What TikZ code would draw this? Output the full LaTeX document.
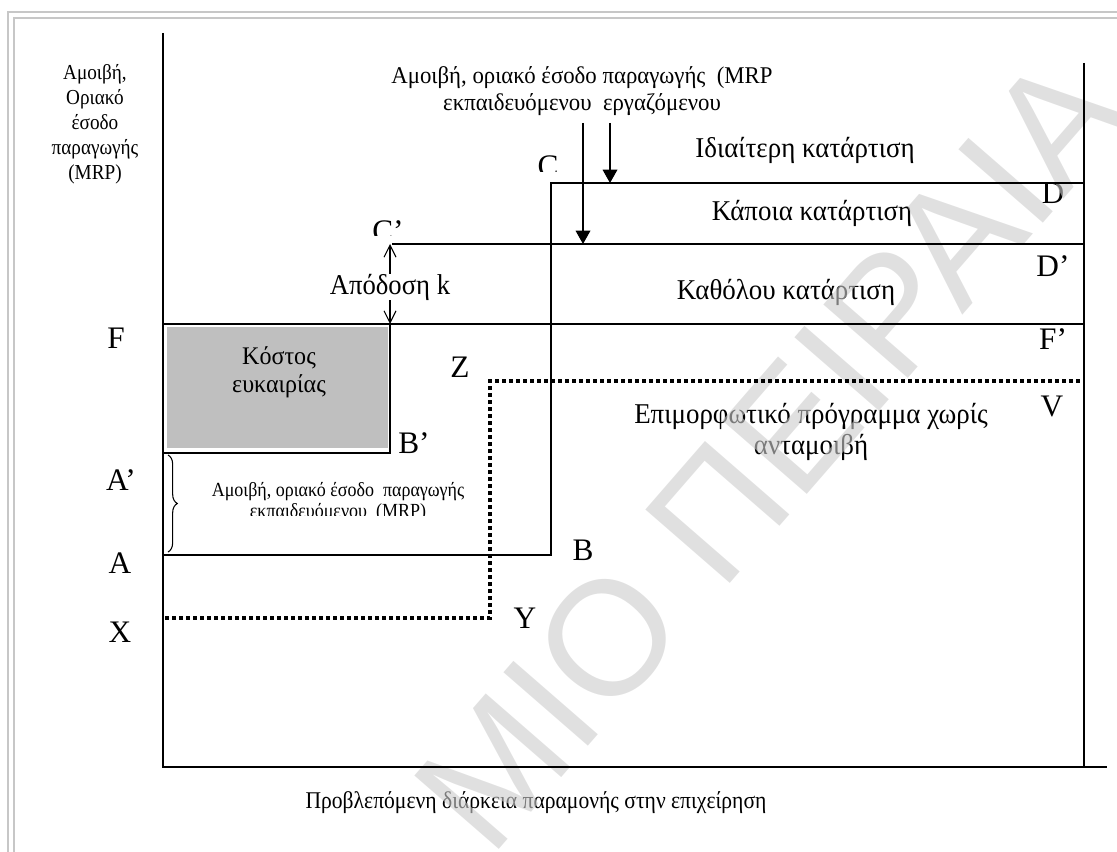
\documentclass[tikz,border=0pt]{standalone}
\usepackage{fontspec}
\setmainfont{Liberation Serif}
\newfontfamily\wmfont{Liberation Sans}
\usetikzlibrary{arrows.meta,decorations.pathreplacing}
\begin{document}
\begin{tikzpicture}[x=0.75pt,y=-0.75pt,
  axis/.style={line width=1.5pt},
  ln/.style={line width=1pt},
  dots/.style={line width=3pt, dash pattern=on 3pt off 2.25pt},
  lbl/.style={font=\fontsize{23.5}{24}\selectfont, inner sep=0pt},
  region/.style={font=\fontsize{21.5}{23}\selectfont, inner sep=0pt, align=center, xscale=0.94},
  small/.style={font=\fontsize{16}{18.75}\selectfont, inner sep=0pt, align=center, xscale=0.9},
  frameline/.style={draw=black!22, line width=2pt},
  bigarrow/.style={line width=1pt, -{Triangle[width=11pt,length=10pt]}},
  karrow/.style={line width=0.8pt, -{Straight Barb[width=9pt,length=9pt]}},
]
\useasboundingbox (0,0) rectangle (1117,852);
% page frame
\draw[frameline] (8,852) -- (8,12) -- (1117,12);
\draw[frameline] (14,852) -- (14,18) -- (1117,18);

% key points
\coordinate (ytop) at (163,33);
\coordinate (O) at (163,767);
\coordinate (xend) at (1107,767);
\coordinate (Rtop) at (1084,63);
\coordinate (Rbot) at (1084,767);
\coordinate (Cpt) at (551,183);
\coordinate (Dpt) at (1084,183);
\coordinate (Bpt) at (551,555);
\coordinate (Apt) at (163,555);
\coordinate (Cp) at (390,244);
\coordinate (Cpl) at (392,244);
\coordinate (Dp) at (1084,244);
\coordinate (Fpt) at (163,324);
\coordinate (Fp) at (1084,324);
\coordinate (Kc) at (390,324);
\coordinate (Bp) at (390,453);
\coordinate (Ap) at (163,453);
\coordinate (Xpt) at (165,618);
\coordinate (Ypt) at (490,618);
\coordinate (Zpt) at (490,381);
\coordinate (Vpt) at (1084,381);
\coordinate (a1s) at (583,123);
\coordinate (a1e) at (583,244);
\coordinate (a2s) at (610,123);
\coordinate (a2e) at (610,183);
\coordinate (brt) at (168,455);
\coordinate (brb) at (168,552);

% opportunity cost box
\fill[black!25] (167,327) rectangle (388,448);

% ---------- texts ----------
% y-axis label
\begin{scope}
\clip (20,40) rectangle (141,200);
\node[small] (ylab) at (95,124) {Αμοιβή,\\Οριακό\\έσοδο\\παραγωγής\\(MRP)};
\end{scope}

% top label
\node[font=\fontsize{18}{20.5}\selectfont, inner sep=0pt, align=center, xscale=0.95] (toplab) at (582,91)
  {Αμοιβή, οριακό έσοδο παραγωγής \ (MRP\\εκπαιδευόμενου \ εργαζόμενου};

% region labels
\node[region] (r1) at (805,150) {Ιδιαίτερη κατάρτιση};
\node[region] (r2) at (812,213) {Κάποια κατάρτιση};
\node[region] (r3) at (786,292) {Καθόλου κατάρτιση};
\node[region] (r4) at (811,432) {Επιμορφωτικό πρόγραμμα χωρίς\\ανταμοιβή};
\node[font=\fontsize{19}{21}\selectfont, inner sep=0pt, align=center, xscale=0.95] (cost) at (279,372) {Κόστος\\ευκαιρίας};
\node[region, xscale=0.99] (kn) at (390,287) {Απόδοση k};

% brace text (second line cut)
\begin{scope}
\clip (190,470) rectangle (520,515);
\node[font=\fontsize{15}{15.5}\selectfont, inner sep=0pt, align=center, xscale=0.9] (mrp) at (338,502) {Αμοιβή, οριακό έσοδο \ παραγωγής\\εκπαιδευόμενου \ (MRP)};
\end{scope}

% point labels
\begin{scope}
\clip (520,140) rectangle (580,172);
\node[lbl] (lC) at (548,166) {C};
\end{scope}
\begin{scope}
\clip (360,200) rectangle (420,236);
\node[lbl] (lCp) at (388,231) {C’};
\end{scope}
\node[lbl] (lD) at (1053,193) {D};
\node[lbl] (lDp) at (1053,266) {D’};
\node[lbl] (lFp) at (1053,339) {F’};
\node[lbl] (lV) at (1052,406) {V};
\node[lbl] (lF) at (116,338) {F};
\node[lbl] (lAp) at (121,480) {A’};
\node[lbl] (lA) at (120,563) {A};
\node[lbl] (lX) at (120,632) {X};
\node[lbl] (lZ) at (460,367) {Z};
\node[lbl] (lBp) at (414,443) {B’};
\node[lbl] (lB) at (583,550) {B};
\node[lbl] (lY) at (525,618) {Y};

% x-axis label
\node[font=\fontsize{18}{20}\selectfont, inner sep=0pt, xscale=0.9] (xlab) at (536,803) {Προβλεπόμενη διάρκεια παραμονής στην επιχείρηση};

% watermark (over the texts, under the lines)
\node[text=black!20, opacity=0.6, rotate=49, font=\wmfont\fontsize{122}{122}\selectfont, inner sep=0pt] (wm) at (770,452) {ΜΙΟ ΠΕΙΡΑΙΑ};

% ---------- lines ----------
\draw[axis] (ytop) -- (O) -- (xend);
\draw[ln] (Rtop) -- (Rbot);
\draw[ln] (Apt) -- (Bpt) -- (Cpt) -- (Dpt);
\draw[ln] (Cpl) -- (Dp);
\draw[ln] (Fpt) -- (Fp);
\draw[ln] (Ap) -- (Bp) -- (Kc);
\draw[dots] (Xpt) -- (Ypt) -- (Zpt) -- (Vpt);

% arrows from the top label
\draw[bigarrow] (a1s) -- (a1e);
\draw[bigarrow] (a2s) -- (a2e);

% return k
\draw[karrow] (kn.north) -- (Cp);
\draw[karrow] (kn.south) -- (Kc);

% brace
\draw[line width=0.8pt, decorate, decoration={brace, amplitude=7pt}] (brt) -- (brb);
\end{tikzpicture}
\end{document}
